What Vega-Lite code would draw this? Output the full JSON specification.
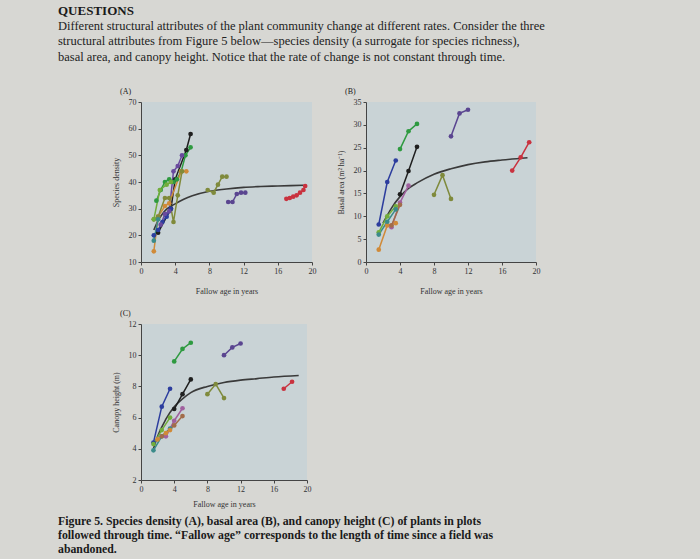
{
  "$schema": "https://vega.github.io/schema/vega-lite/v6.json",
  "background": "#d7d7d3",
  "padding": {"left": 58, "top": 4, "right": 158, "bottom": 3},
  "config": {
    "font": "Liberation Serif",
    "view": {"fill": "#c9d3d6", "stroke": null},
    "axis": {"labelFont": "Liberation Serif", "titleFont": "Liberation Serif", "labelFontSize": 8, "titleFontSize": 8, "titleFontWeight": "normal", "grid": false, "domainColor": "#444", "tickColor": "#444", "labelColor": "#333", "titleColor": "#333", "tickSize": 3, "labelPadding": 2, "labelOverlap": false, "labelFlush": false, "labelSeparation": 0},
    "axisY": {"titlePadding": 8},
    "axisX": {"titlePadding": 12},
    "title": {"font": "Liberation Serif", "color": "#1a1a1a"}
  },
  "datasets": {
    "obs": [
      {"p": "A", "s": "F1", "x": 2, "y": 21}, {"p": "A", "s": "F1", "x": 3.5, "y": 30}, {"p": "A", "s": "F1", "x": 4, "y": 41}, {"p": "A", "s": "F1", "x": 5.3, "y": 52}, {"p": "A", "s": "F1", "x": 5.8, "y": 58},
      {"p": "A", "s": "F2", "x": 1.8, "y": 33}, {"p": "A", "s": "F2", "x": 2.3, "y": 37}, {"p": "A", "s": "F2", "x": 2.8, "y": 40}, {"p": "A", "s": "F2", "x": 3.3, "y": 41}, {"p": "A", "s": "F2", "x": 3.8, "y": 40}, {"p": "A", "s": "F2", "x": 4.2, "y": 41}, {"p": "A", "s": "F2", "x": 4.7, "y": 44}, {"p": "A", "s": "F2", "x": 5.2, "y": 50}, {"p": "A", "s": "F2", "x": 5.8, "y": 53},
      {"p": "A", "s": "F3", "x": 1.5, "y": 20}, {"p": "A", "s": "F3", "x": 2, "y": 22}, {"p": "A", "s": "F3", "x": 2.5, "y": 25}, {"p": "A", "s": "F3", "x": 3, "y": 27}, {"p": "A", "s": "F3", "x": 3.5, "y": 30},
      {"p": "A", "s": "F4", "x": 2.3, "y": 24}, {"p": "A", "s": "F4", "x": 2.8, "y": 28}, {"p": "A", "s": "F4", "x": 3.3, "y": 29}, {"p": "A", "s": "F4", "x": 3.8, "y": 44}, {"p": "A", "s": "F4", "x": 4.3, "y": 46}, {"p": "A", "s": "F4", "x": 4.8, "y": 50},
      {"p": "A", "s": "F5", "x": 1.5, "y": 14}, {"p": "A", "s": "F5", "x": 2, "y": 27}, {"p": "A", "s": "F5", "x": 2.8, "y": 31}, {"p": "A", "s": "F5", "x": 3.3, "y": 32}, {"p": "A", "s": "F5", "x": 4.7, "y": 44}, {"p": "A", "s": "F5", "x": 5.3, "y": 44},
      {"p": "A", "s": "F6", "x": 1.5, "y": 26}, {"p": "A", "s": "F6", "x": 2, "y": 27}, {"p": "A", "s": "F6", "x": 2.8, "y": 34}, {"p": "A", "s": "F6", "x": 3.3, "y": 34}, {"p": "A", "s": "F6", "x": 3.8, "y": 25}, {"p": "A", "s": "F6", "x": 4.3, "y": 35}, {"p": "A", "s": "F6", "x": 4.8, "y": 44},
      {"p": "A", "s": "F7", "x": 1.5, "y": 26}, {"p": "A", "s": "F7", "x": 2.2, "y": 37}, {"p": "A", "s": "F7", "x": 3, "y": 39}, {"p": "A", "s": "F7", "x": 3.5, "y": 40},
      {"p": "A", "s": "F8", "x": 1.5, "y": 18}, {"p": "A", "s": "F8", "x": 2, "y": 26},
      {"p": "A", "s": "F11", "x": 7.8, "y": 37}, {"p": "A", "s": "F11", "x": 8.5, "y": 36}, {"p": "A", "s": "F11", "x": 9, "y": 39}, {"p": "A", "s": "F11", "x": 9.5, "y": 42}, {"p": "A", "s": "F11", "x": 10, "y": 42},
      {"p": "A", "s": "F12", "x": 10.2, "y": 32.5}, {"p": "A", "s": "F12", "x": 10.7, "y": 32.5}, {"p": "A", "s": "F12", "x": 11.2, "y": 35.5}, {"p": "A", "s": "F12", "x": 11.7, "y": 36}, {"p": "A", "s": "F12", "x": 12.2, "y": 36},
      {"p": "A", "s": "F13", "x": 17, "y": 33.7}, {"p": "A", "s": "F13", "x": 17.4, "y": 34}, {"p": "A", "s": "F13", "x": 17.8, "y": 34.5}, {"p": "A", "s": "F13", "x": 18.2, "y": 35}, {"p": "A", "s": "F13", "x": 18.6, "y": 36}, {"p": "A", "s": "F13", "x": 19, "y": 37}, {"p": "A", "s": "F13", "x": 19.2, "y": 38.5},

      {"p": "B", "s": "F3", "x": 1.5, "y": 8.2}, {"p": "B", "s": "F3", "x": 2.5, "y": 17.5}, {"p": "B", "s": "F3", "x": 3.5, "y": 22.2},
      {"p": "B", "s": "F2", "x": 4, "y": 24.7}, {"p": "B", "s": "F2", "x": 5, "y": 28.6}, {"p": "B", "s": "F2", "x": 6, "y": 30.2},
      {"p": "B", "s": "F1", "x": 4, "y": 14.8}, {"p": "B", "s": "F1", "x": 5, "y": 19.9}, {"p": "B", "s": "F1", "x": 6, "y": 25.2},
      {"p": "B", "s": "F12", "x": 10, "y": 27.5}, {"p": "B", "s": "F12", "x": 11, "y": 32.5}, {"p": "B", "s": "F12", "x": 12, "y": 33.3},
      {"p": "B", "s": "F13", "x": 17.2, "y": 20}, {"p": "B", "s": "F13", "x": 18.2, "y": 22.9}, {"p": "B", "s": "F13", "x": 19.2, "y": 26.2},
      {"p": "B", "s": "F11", "x": 8, "y": 14.7}, {"p": "B", "s": "F11", "x": 9, "y": 19}, {"p": "B", "s": "F11", "x": 10, "y": 13.8},
      {"p": "B", "s": "F7", "x": 1.5, "y": 6.5}, {"p": "B", "s": "F7", "x": 2.5, "y": 10}, {"p": "B", "s": "F7", "x": 3.5, "y": 12.2},
      {"p": "B", "s": "F5", "x": 1.5, "y": 2.7}, {"p": "B", "s": "F5", "x": 2.5, "y": 8}, {"p": "B", "s": "F5", "x": 3.5, "y": 8.5},
      {"p": "B", "s": "F9", "x": 3, "y": 7.6}, {"p": "B", "s": "F9", "x": 4, "y": 13}, {"p": "B", "s": "F9", "x": 5, "y": 16.7},
      {"p": "B", "s": "F8", "x": 1.5, "y": 6}, {"p": "B", "s": "F8", "x": 2.5, "y": 8.8}, {"p": "B", "s": "F8", "x": 3.5, "y": 11.5},
      {"p": "B", "s": "F10", "x": 3, "y": 8}, {"p": "B", "s": "F10", "x": 4, "y": 12.5},

      {"p": "C", "s": "F2", "x": 4, "y": 9.6}, {"p": "C", "s": "F2", "x": 5, "y": 10.4}, {"p": "C", "s": "F2", "x": 6, "y": 10.8},
      {"p": "C", "s": "F12", "x": 10, "y": 10}, {"p": "C", "s": "F12", "x": 11, "y": 10.5}, {"p": "C", "s": "F12", "x": 12, "y": 10.75},
      {"p": "C", "s": "F1", "x": 4, "y": 6.55}, {"p": "C", "s": "F1", "x": 5, "y": 7.5}, {"p": "C", "s": "F1", "x": 6, "y": 8.45},
      {"p": "C", "s": "F3", "x": 1.5, "y": 4.4}, {"p": "C", "s": "F3", "x": 2.5, "y": 6.7}, {"p": "C", "s": "F3", "x": 3.5, "y": 7.85},
      {"p": "C", "s": "F11", "x": 8, "y": 7.5}, {"p": "C", "s": "F11", "x": 9, "y": 8.15}, {"p": "C", "s": "F11", "x": 10, "y": 7.25},
      {"p": "C", "s": "F13", "x": 17.2, "y": 7.85}, {"p": "C", "s": "F13", "x": 18.2, "y": 8.3},
      {"p": "C", "s": "F8", "x": 1.5, "y": 3.9}, {"p": "C", "s": "F8", "x": 2.5, "y": 4.8}, {"p": "C", "s": "F8", "x": 3.5, "y": 5.3},
      {"p": "C", "s": "F7", "x": 1.5, "y": 4.3}, {"p": "C", "s": "F7", "x": 2.5, "y": 5.2}, {"p": "C", "s": "F7", "x": 3.5, "y": 6},
      {"p": "C", "s": "F9", "x": 3, "y": 4.8}, {"p": "C", "s": "F9", "x": 4, "y": 5.8}, {"p": "C", "s": "F9", "x": 5, "y": 6.6},
      {"p": "C", "s": "F10", "x": 2.5, "y": 4.8}, {"p": "C", "s": "F10", "x": 4, "y": 5.5}, {"p": "C", "s": "F10", "x": 5, "y": 6.1},
      {"p": "C", "s": "F5", "x": 2, "y": 4.6}, {"p": "C", "s": "F5", "x": 3, "y": 5}, {"p": "C", "s": "F5", "x": 3.5, "y": 5.2}
    ],
    "fit": [
      {"p": "A", "x": 1.5, "y": 22}, {"p": "A", "x": 2, "y": 25.5}, {"p": "A", "x": 2.5, "y": 28}, {"p": "A", "x": 3, "y": 29.8}, {"p": "A", "x": 4, "y": 31.8}, {"p": "A", "x": 5, "y": 33.5}, {"p": "A", "x": 6, "y": 34.8}, {"p": "A", "x": 8, "y": 36.5}, {"p": "A", "x": 10, "y": 37.4}, {"p": "A", "x": 12, "y": 38}, {"p": "A", "x": 14, "y": 38.3}, {"p": "A", "x": 16, "y": 38.5}, {"p": "A", "x": 19, "y": 38.8},
      {"p": "B", "x": 2, "y": 8.5}, {"p": "B", "x": 3, "y": 11.8}, {"p": "B", "x": 4, "y": 14.3}, {"p": "B", "x": 5, "y": 16.1}, {"p": "B", "x": 6, "y": 17.3}, {"p": "B", "x": 8, "y": 19.2}, {"p": "B", "x": 10, "y": 20.4}, {"p": "B", "x": 12, "y": 21.3}, {"p": "B", "x": 14, "y": 21.9}, {"p": "B", "x": 16, "y": 22.3}, {"p": "B", "x": 19, "y": 22.8},
      {"p": "C", "x": 1.5, "y": 4}, {"p": "C", "x": 2, "y": 4.8}, {"p": "C", "x": 3, "y": 5.9}, {"p": "C", "x": 4, "y": 6.7}, {"p": "C", "x": 5, "y": 7.2}, {"p": "C", "x": 6, "y": 7.6}, {"p": "C", "x": 8, "y": 8.0}, {"p": "C", "x": 10, "y": 8.25}, {"p": "C", "x": 12, "y": 8.4}, {"p": "C", "x": 14, "y": 8.5}, {"p": "C", "x": 16, "y": 8.6}, {"p": "C", "x": 19, "y": 8.7}
    ]
  },
  "title": {
    "text": "QUESTIONS",
    "subtitle": [
      "Different structural attributes of the plant community change at different rates. Consider the three",
      "structural attributes from Figure 5 below—species density (a surrogate for species richness),",
      "basal area, and canopy height.  Notice that the rate of change is not constant through time."
    ],
    "anchor": "start", "dx": 0, "fontSize": 13, "fontWeight": "bold", "color": "#1a1a1a",
    "subtitleFont": "Liberation Serif", "subtitleFontSize": 12.5, "subtitleColor": "#222", "subtitleLineHeight": 15.5, "subtitlePadding": 2, "offset": 25
  },
  "spacing": 15,
  "vconcat": [
    {
      "spacing": 21,
      "hconcat": [
        {
          "width": 171, "height": 160,
          "title": {"text": "(A)", "anchor": "start", "fontSize": 8, "fontWeight": "normal", "dx": 8, "offset": 2},
          "encoding": {
            "x": {"field": "x", "type": "quantitative", "scale": {"domain": [0, 20]}, "axis": {"values": [0, 4, 8, 12, 16, 20], "labelOverlap": false, "title": "Fallow age in years"}},
            "y": {"field": "y", "type": "quantitative", "scale": {"domain": [10, 70]}, "axis": {"values": [10, 20, 30, 40, 50, 60, 70], "labelOverlap": false, "title": "Species density"}}
          },
          "layer": [
            {"data": {"name": "fit"}, "transform": [{"filter": "datum.p == 'A'"}],
             "mark": {"type": "line", "color": "#3a3a3a", "strokeWidth": 1.6, "interpolate": "monotone"}},
            {"data": {"name": "obs"}, "transform": [{"filter": "datum.p == 'A'"}],
             "mark": {"type": "line", "strokeWidth": 1.5},
             "encoding": {"color": {"field": "s", "type": "nominal", "legend": null, "scale": {"domain": ["F1","F2","F3","F4","F5","F6","F7","F8","F9","F10","F11","F12","F13"], "range": ["#1f1f1f","#2e9a40","#2c3d9e","#6a4a9e","#d08a38","#808a3a","#72ad3c","#3b8b8a","#a0609e","#a26c4a","#7f8a3c","#5a4590","#c9323f"]}}}},
            {"data": {"name": "obs"}, "transform": [{"filter": "datum.p == 'A'"}],
             "mark": {"type": "point", "filled": true, "size": 22, "opacity": 1},
             "encoding": {"color": {"field": "s", "type": "nominal", "legend": null}}}
          ]
        },
        {
          "width": 170, "height": 160,
          "title": {"text": "(B)", "anchor": "start", "fontSize": 8, "fontWeight": "normal", "dx": 8, "offset": 2},
          "encoding": {
            "x": {"field": "x", "type": "quantitative", "scale": {"domain": [0, 20]}, "axis": {"values": [0, 4, 8, 12, 16, 20], "labelOverlap": false, "title": "Fallow age in years"}},
            "y": {"field": "y", "type": "quantitative", "scale": {"domain": [0, 35]}, "axis": {"values": [0, 5, 10, 15, 20, 25, 30, 35], "labelOverlap": false, "title": "Basal area (m² ha⁻¹)"}}
          },
          "layer": [
            {"data": {"name": "fit"}, "transform": [{"filter": "datum.p == 'B'"}],
             "mark": {"type": "line", "color": "#3a3a3a", "strokeWidth": 1.6, "interpolate": "monotone"}},
            {"data": {"name": "obs"}, "transform": [{"filter": "datum.p == 'B'"}],
             "mark": {"type": "line", "strokeWidth": 1.5},
             "encoding": {"color": {"field": "s", "type": "nominal", "legend": null, "scale": {"domain": ["F1","F2","F3","F4","F5","F6","F7","F8","F9","F10","F11","F12","F13"], "range": ["#1f1f1f","#2e9a40","#2c3d9e","#6a4a9e","#d08a38","#808a3a","#72ad3c","#3b8b8a","#a0609e","#a26c4a","#7f8a3c","#5a4590","#c9323f"]}}}},
            {"data": {"name": "obs"}, "transform": [{"filter": "datum.p == 'B'"}],
             "mark": {"type": "point", "filled": true, "size": 22, "opacity": 1},
             "encoding": {"color": {"field": "s", "type": "nominal", "legend": null}}}
          ]
        }
      ]
    },
    {
      "title": {
        "text": [
          "Figure 5. Species density (A), basal area (B), and canopy height (C) of plants in plots",
          "followed through time. “Fallow age” corresponds to the length of time since a field was",
          "abandoned."
        ],
        "orient": "bottom", "anchor": "start", "dx": -54, "fontSize": 11.8, "fontWeight": "bold", "lineHeight": 14, "offset": 8, "color": "#1a1a1a"
      },
      "vconcat": [
        {
          "width": 166, "height": 156,
          "title": {"text": "(C)", "anchor": "start", "fontSize": 8, "fontWeight": "normal", "dx": 8, "offset": 2},
          "encoding": {
            "x": {"field": "x", "type": "quantitative", "scale": {"domain": [0, 20]}, "axis": {"values": [0, 4, 8, 12, 16, 20], "labelOverlap": false, "titlePadding": 7, "title": "Fallow age in years"}},
            "y": {"field": "y", "type": "quantitative", "scale": {"domain": [2, 12]}, "axis": {"values": [2, 4, 6, 8, 10, 12], "labelOverlap": false, "title": "Canopy height (m)"}}
          },
          "layer": [
            {"data": {"name": "fit"}, "transform": [{"filter": "datum.p == 'C'"}],
             "mark": {"type": "line", "color": "#3a3a3a", "strokeWidth": 1.6, "interpolate": "monotone"}},
            {"data": {"name": "obs"}, "transform": [{"filter": "datum.p == 'C'"}],
             "mark": {"type": "line", "strokeWidth": 1.5},
             "encoding": {"color": {"field": "s", "type": "nominal", "legend": null, "scale": {"domain": ["F1","F2","F3","F4","F5","F6","F7","F8","F9","F10","F11","F12","F13"], "range": ["#1f1f1f","#2e9a40","#2c3d9e","#6a4a9e","#d08a38","#808a3a","#72ad3c","#3b8b8a","#a0609e","#a26c4a","#7f8a3c","#5a4590","#c9323f"]}}}},
            {"data": {"name": "obs"}, "transform": [{"filter": "datum.p == 'C'"}],
             "mark": {"type": "point", "filled": true, "size": 22, "opacity": 1},
             "encoding": {"color": {"field": "s", "type": "nominal", "legend": null}}}
          ]
        }
      ]
    }
  ]
}
